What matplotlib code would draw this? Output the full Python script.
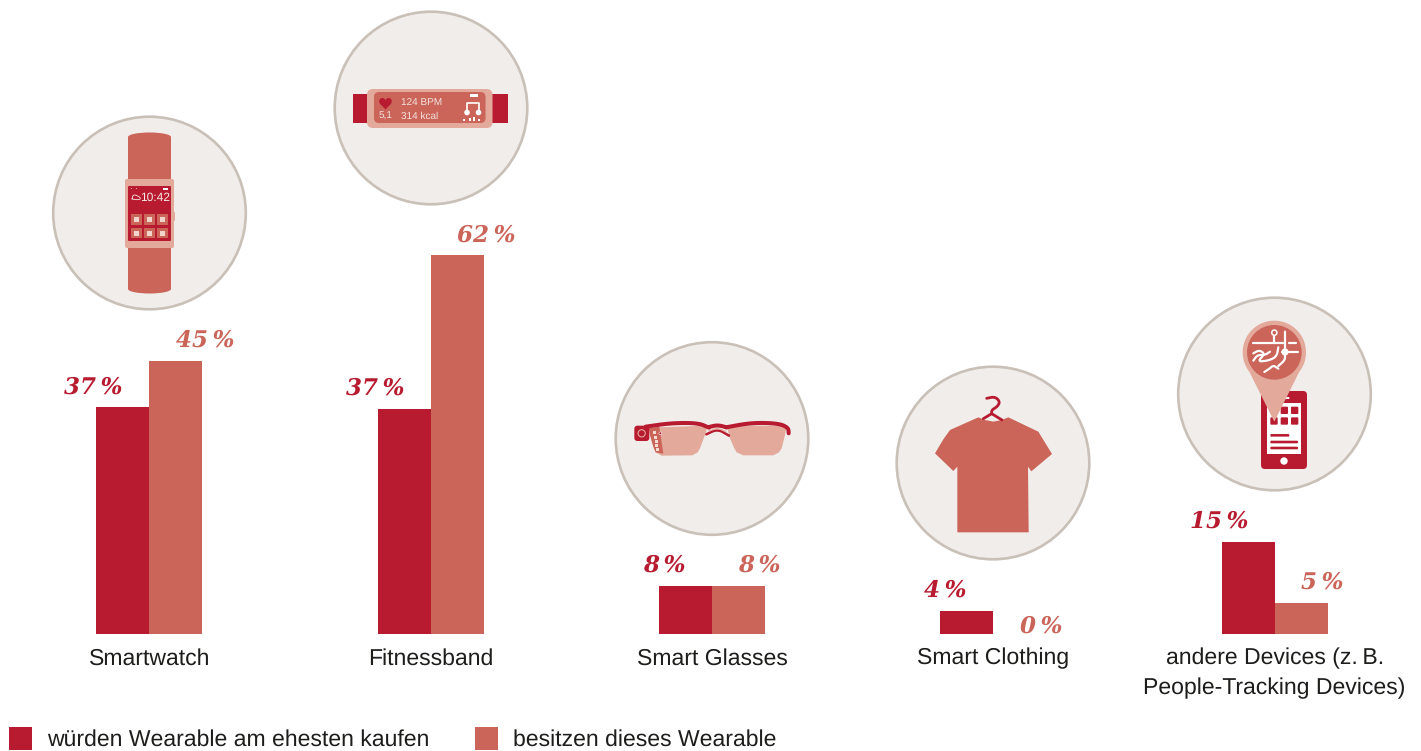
import numpy as np
import matplotlib
matplotlib.use('Agg')
from matplotlib import pyplot as plt
from matplotlib.patches import Circle, Ellipse, FancyBboxPatch, Polygon, Rectangle

plt.rcParams['text.hinting'] = 'no_hinting'
plt.rcParams['text.hinting_factor'] = 1

categories = ['Smartwatch', 'Fitnessband', 'Smart Glasses', 'Smart Clothing',
              'andere Devices (z.\u2009B.\nPeople-Tracking Devices)']
# bar heights, labels as printed
kaufen = [37.2, 36.9, 7.9, 3.8, 15.1]
besitzen = [44.8, 62.1, 7.9, 0.0, 5.1]
kaufen_labels = ['37\u2009%', '37\u2009%', '8\u2009%', '4\u2009%', '15\u2009%']
besitzen_labels = ['45\u2009%', '62\u2009%', '8\u2009%', '0\u2009%', '5\u2009%']
legend_labels = ['würden Wearable am ehesten kaufen', 'besitzen dieses Wearable']

DARK = '#B81A30'
SALMON = '#CB6459'
LIGHT = '#E3A99B'
BG = '#F0EDEA'
RING = '#C9C0B8'
TEXT = '#1D1D1B'
SANS = ['Liberation Sans', 'DejaVu Sans']

W, H = 1421, 751
fig = plt.figure(figsize=(W / 100, H / 100), dpi=100, facecolor='white')

# bars: one category = 281.3 px, 1 % = 6.1 px, baseline at y = 634 px
ax = fig.add_axes([0, (H - 634) / H, 1, 634 / H])
ax.set_xlim(-149.4 / 281.3, (W - 149.4) / 281.3)
ax.set_ylim(0, 634 / 6.1)
ax.axis('off')
x = np.arange(len(categories))
bw = 53 / 281.3
ax.bar(x - bw / 2, kaufen, bw, color=DARK, linewidth=0)
ax.bar(x + bw / 2, besitzen, bw, color=SALMON, linewidth=0)

for i in x:
    ax.annotate(kaufen_labels[i], (i - bw / 2, kaufen[i]), xytext=(0, 6.5), textcoords='offset points',
                ha='right', va='bottom', color=DARK, family='DejaVu Serif', weight='bold', style='italic', fontsize=16.8)
    off = 6.5 if besitzen[i] > 0 else -2.5
    ax.annotate(besitzen_labels[i], (i + bw / 2, besitzen[i]), xytext=(0, off), textcoords='offset points',
                ha='left', va='bottom', color=SALMON, family='DejaVu Serif', weight='bold', style='italic', fontsize=16.8)
    ax.annotate(categories[i], (i, 0), xytext=(0, -10), textcoords='offset points', ha='center', va='top',
                color=TEXT, family=SANS, fontsize=16.5, linespacing=1.47, annotation_clip=False)

# overlay in pixel coordinates for the icons and the legend
ov = fig.add_axes([0, 0, 1, 1], zorder=3)
ov.set_xlim(0, W)
ov.set_ylim(H, 0)
ov.axis('off')
ov.patch.set_alpha(0)


def box(x0, y0, x1, y1, color, r=2, z=3):
    ov.add_patch(FancyBboxPatch((x0 + r, y0 + r), x1 - x0 - 2 * r, y1 - y0 - 2 * r,
                                boxstyle='round,pad=%g,rounding_size=%g' % (r, r),
                                fc=color, ec='none', zorder=z))


def ring(cx, cy):
    ov.add_patch(Circle((cx, cy), 96.3, fc=BG, ec=RING, lw=1.9, zorder=1))


def zoomed(pts, ox, oy):
    return [(ox + a / 3, oy + b / 3) for a, b in pts]


def smooth(pts, n=3):
    # corner cutting, keeps the end points
    p = np.array(pts, float)
    for _ in range(n):
        q = 0.75 * p[:-1] + 0.25 * p[1:]
        r = 0.25 * p[:-1] + 0.75 * p[1:]
        mid = np.empty((2 * len(q), 2))
        mid[::2] = q
        mid[1::2] = r
        p = np.vstack([p[:1], mid, p[-1:]])
    return p


def curve(pts, color, lw, z=4, soft=True):
    p = smooth(pts) if soft and len(pts) > 2 else np.array(pts, float)
    ov.plot(p[:, 0], p[:, 1], color=color, lw=lw, zorder=z,
            solid_capstyle='round', solid_joinstyle='round')


# smartwatch
ring(149.5, 213)
ov.add_patch(Ellipse((149.5, 137), 43, 9, fc=SALMON, ec='none', zorder=2))
ov.add_patch(Ellipse((149.5, 289), 43, 9, fc=SALMON, ec='none', zorder=2))
ov.add_patch(Rectangle((128, 137), 43, 152, fc=SALMON, ec='none', zorder=2))
box(125, 179, 174, 248, LIGHT, 2)
box(172, 212, 175, 221, LIGHT, 1, 3)
box(128, 186, 171, 241, DARK, 1, 4)
ov.text(155, 197.5, '10:42', color='#F7E9E5', family=SANS, fontsize=8.6, ha='center', va='center', zorder=5)
curve([(132, 199), (133, 195), (136, 195), (141, 198), (139, 200), (132, 199)], '#F7E9E5', 0.6, 5)
for ty, th_ in [(214, 11), (228, 10)]:
    for tx in [131, 144, 157]:
        ov.add_patch(Rectangle((tx, ty), 11, th_, fc=SALMON, ec='none', zorder=5))
        ov.add_patch(Rectangle((tx + 3, ty + 3), 5, 4.5, fc='#F1D5CC', ec='none', zorder=6))
ov.add_patch(Rectangle((163, 187.5), 5, 2, fc='white', ec='none', zorder=5))
for dx_ in [130.5, 135.5]:
    ov.add_patch(Rectangle((dx_, 188), 1.2, 1.2, fc=LIGHT, ec='none', zorder=5))

# fitness band
ring(431, 108)
ov.add_patch(Rectangle((353, 94), 155, 29, fc=DARK, ec='none', zorder=2))
box(367, 89, 492.5, 128, LIGHT, 6)
box(374, 92, 485.5, 123, SALMON, 5, 4)
th = np.linspace(0, 2 * np.pi, 60)
hx = 385.5 + 6.3 * np.sin(th) ** 3
hy = 103 - 0.42 * (13 * np.cos(th) - 5 * np.cos(2 * th) - 2 * np.cos(3 * th) - np.cos(4 * th))
ov.add_patch(Polygon(np.column_stack([hx, hy]), fc=DARK, ec='none', zorder=5))
ov.text(401, 102.5, '124 BPM', color='#F3E3DD', family=SANS, fontsize=7.3, va='center', zorder=5)
ov.text(379, 116.5, '5,1', color='#F3E3DD', family=SANS, fontsize=7.3, va='center', zorder=5)
ov.text(401, 116.5, '314 kcal', color='#F3E3DD', family=SANS, fontsize=7.3, va='center', zorder=5)
curve([(467, 112), (467, 103), (479, 103), (479, 112)], 'white', 1.2, 5, soft=False)
for nx in [467, 478.5]:
    ov.add_patch(Circle((nx, 112.5), 2.8, fc='white', ec='none', zorder=5))
ov.add_patch(Rectangle((470, 94), 8, 3, fc='white', ec='none', zorder=5))
for nx, nh in [(463, 2), (469, 3), (473, 4), (478, 2)]:
    ov.add_patch(Rectangle((nx, 122 - nh - 1), 2.2, nh, fc='white', ec='none', zorder=5))

# glasses
ring(712, 438.5)
OX, OY = 605, 335
lens_l = [(132, 278), (303, 272), (305, 285), (298, 305), (285, 340), (278, 352), (262, 361), (170, 362),
          (152, 352), (145, 335), (135, 300)]
lens_r = [(365, 272), (545, 272), (540, 300), (530, 340), (522, 352), (505, 361), (415, 361),
          (395, 352), (388, 340), (375, 310)]
ov.add_patch(Polygon(zoomed(lens_l, OX, OY), fc=LIGHT, ec='none', zorder=3))
ov.add_patch(Polygon(zoomed(lens_r, OX, OY), fc=LIGHT, ec='none', zorder=3))
ov.add_patch(Polygon(zoomed([(132, 280), (163, 275), (175, 356), (152, 352), (145, 335), (135, 300)], OX, OY),
                     fc=SALMON, ec='none', zorder=4))
curve(zoomed([(122, 275), (200, 264), (280, 264), (312, 278)], OX, OY), DARK, 2.9)
curve(zoomed([(312, 276), (338, 270), (365, 277)], OX, OY), DARK, 2.9)
curve(zoomed([(363, 277), (440, 263), (520, 265), (550, 278), (551, 295)], OX, OY), DARK, 2.9)
curve(zoomed([(304, 298), (338, 282), (372, 302)], OX, OY), DARK, 1.8)
curve(zoomed([(312, 288), (338, 279), (362, 290)], OX, OY), LIGHT, 1.0, 5)
box(OX + 88 / 3, OY + 272 / 3, OX + 133 / 3, OY + 318 / 3, DARK, 3, 5)
ov.add_patch(Circle((OX + 110 / 3, OY + 295 / 3), 3.6, fc='none', ec=LIGHT, lw=0.8, zorder=6))
for a, b in [(148, 292), (151, 306), (153, 318), (155, 331), (157, 344)]:
    ov.add_patch(Rectangle((OX + a / 3 - 1.5, OY + b / 3 - 1.5), 3, 3, fc='#F3DDD5', ec='none', zorder=5))
ov.add_patch(Circle((OX + 166 / 3, OY + 295 / 3), 1.4, fc=DARK, ec='white', lw=0.4, zorder=5))

# t-shirt
ring(993, 463)
OX, OY = 890, 370
shirt = [(265, 142), (180, 180), (160, 208), (135, 250), (190, 303), (202, 290), (202, 487), (416, 487),
         (414, 290), (424, 304), (486, 252), (445, 185), (355, 142), (335, 150), (310, 155), (285, 150)]
ov.add_patch(Polygon(zoomed(shirt, OX, OY), fc=SALMON, ec='none', zorder=3))
curve(zoomed([(290, 85), (315, 80), (330, 95), (322, 110), (305, 120), (305, 131)], OX, OY), DARK, 2.0)
curve(zoomed([(280, 146), (305, 131), (336, 150)], OX, OY), DARK, 2.0, soft=False)

# device with map pin
ring(1274.5, 394)
OX, OY = 1170, 290
box(OX + 273 / 3, OY + 303 / 3, OX + 411 / 3, OY + 537 / 3, DARK, 4, 2)
ov.add_patch(Rectangle((OX + 291 / 3, OY + 340 / 3), 102 / 3, 152 / 3, fc='white', ec='none', zorder=3))
ov.add_patch(Circle((OX + 342 / 3, OY + 513 / 3), 3.7, fc='white', ec='none', zorder=3))
box(OX + 330 / 3, OY + 321 / 3, OX + 358 / 3, OY + 327 / 3, 'white', 0.5, 3)
for b in [350, 382]:
    for a in [301, 332, 363]:
        box(OX + a / 3, OY + b / 3, OX + (a + 22) / 3, OY + (b + 22) / 3, DARK, 1, 4)
for b, e in [(436, 358), (456, 384), (474, 384)]:
    box(OX + 301 / 3, OY + b / 3 - 1.3, OX + e / 3, OY + b / 3 + 1.3, DARK, 1, 4)
pin_t = np.linspace(np.radians(-38), np.radians(218), 60)
pin = [(OX + (313 + 95 * np.cos(t)) / 3, OY + (187 - 95 * np.sin(t)) / 3) for t in pin_t]
pin = pin[::-1] + [(OX + 313 / 3, OY + 395 / 3)]
ov.add_patch(Polygon(pin, fc=LIGHT, ec='none', zorder=5))
ov.add_patch(Circle((OX + 313 / 3, OY + 187 / 3), 82 / 3, fc=SALMON, ec='none', zorder=6))
roads = [[(250, 160), (340, 160)], [(358, 158), (378, 158)], [(345, 125), (345, 195), (345, 210), (325, 228)],
         [(335, 186), (385, 186)], [(313, 135), (313, 160)],
         [(250, 212), (262, 195), (285, 195), (300, 185)],
         [(250, 190), (268, 180), (285, 192), (262, 215), (295, 212), (320, 200), (325, 172)],
         [(283, 246), (300, 235), (310, 226), (325, 236)]]
for r in roads:
    curve(zoomed(r, OX, OY), 'white', 1.6, 7)
ov.add_patch(Circle((OX + 345 / 3, OY + 186 / 3), 3.6, fc='white', ec='none', zorder=7))
ov.add_patch(Circle((OX + 313 / 3, OY + 128 / 3), 2.6, fc=SALMON, ec='white', lw=1.1, zorder=7))

# legend, runs into the lower edge of the picture
for lx, tx, col, lab in [(9, 47, DARK, legend_labels[0]), (475, 513, SALMON, legend_labels[1])]:
    ov.add_patch(Rectangle((lx, 727), 23, 23, fc=col, ec='none', zorder=3))
    ov.text(tx, 740, lab, color=TEXT, family=SANS, fontsize=16.5, va='center', zorder=3)

fig.savefig('out.png', dpi=100)
